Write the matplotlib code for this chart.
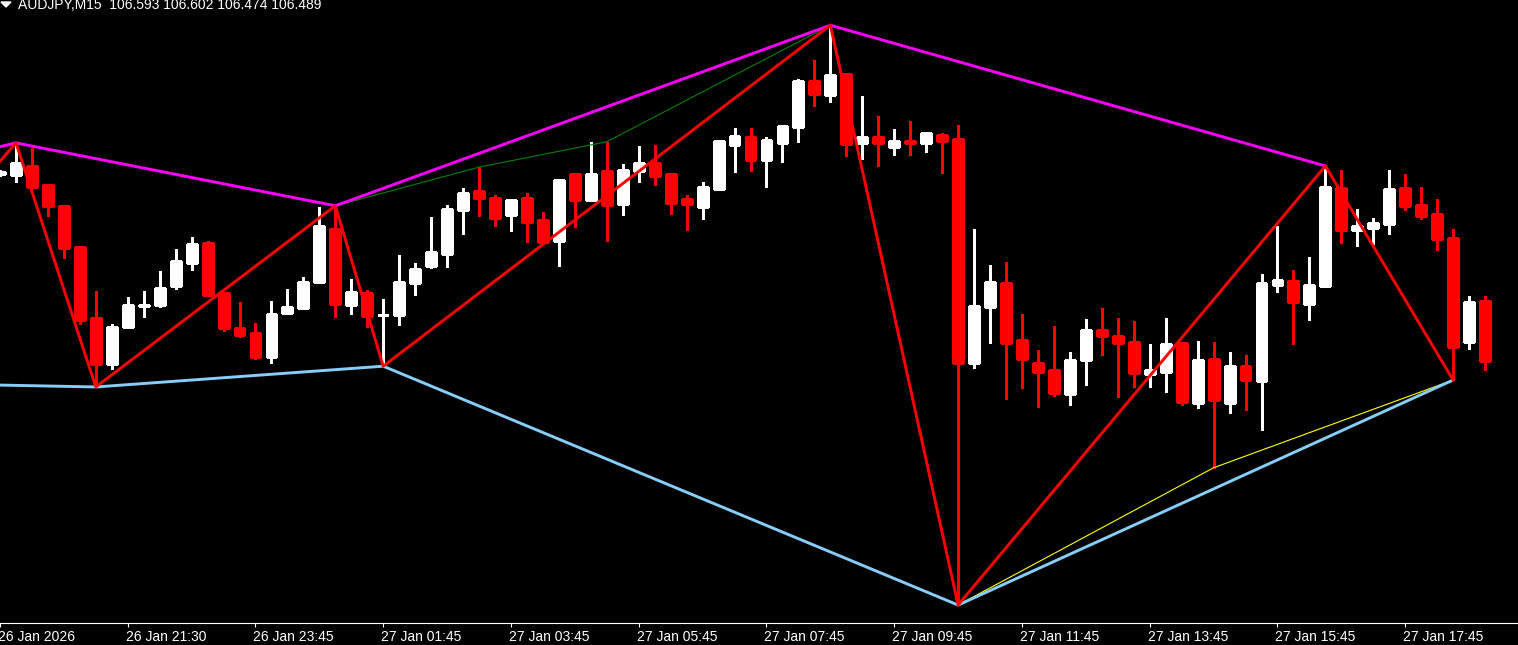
import matplotlib
matplotlib.use('Agg')
import matplotlib.pyplot as plt
from matplotlib.patches import Polygon
from matplotlib.transforms import ScaledTranslation
import numpy as np

symbol = "AUDJPY,M15"
first_bar = -1  # first bar sits just left of the visible area

opens = [106.813, 106.811, 106.827, 106.794, 106.758, 106.687, 106.564, 106.484, 106.548, 106.585,
         106.586, 106.619, 106.659, 106.694, 106.607, 106.546, 106.538, 106.496, 106.572, 106.581,
         106.626, 106.718, 106.586, 106.607, 106.568, 106.569, 106.624, 106.654, 106.674, 106.751,
         106.784, 106.772, 106.742, 106.772, 106.733, 106.697, 106.813, 106.768, 106.818, 106.761,
         106.818, 106.832, 106.813, 106.770, 106.756, 106.787, 106.863, 106.877, 106.837, 106.867,
         106.895, 106.974, 106.950, 106.986, 106.867, 106.877, 106.860, 106.870, 106.867, 106.881,
         106.874, 106.486, 106.583, 106.624, 106.525, 106.486, 106.473, 106.432, 106.491, 106.543,
         106.532, 106.522, 106.466, 106.470, 106.520, 106.416, 106.492, 106.416, 106.480, 106.454,
         106.621, 106.628, 106.588, 106.619, 106.789, 106.716, 106.720, 106.726, 106.789, 106.759,
         106.744, 106.702, 106.522, 106.593]
highs = [106.820, 106.867, 106.858, 106.794, 106.758, 106.688, 106.610, 106.553, 106.600, 106.610,
         106.645, 106.683, 106.704, 106.697, 106.607, 106.591, 106.555, 106.593, 106.614, 106.635,
         106.756, 106.758, 106.631, 106.612, 106.596, 106.673, 106.659, 106.739, 106.759, 106.789,
         106.825, 106.777, 106.770, 106.780, 106.747, 106.803, 106.813, 106.869, 106.869, 106.830,
         106.862, 106.863, 106.813, 106.777, 106.799, 106.870, 106.893, 106.893, 106.877, 106.898,
         106.978, 107.011, 107.071, 106.986, 106.948, 106.914, 106.891, 106.905, 106.886, 106.884,
         106.898, 106.718, 106.655, 106.661, 106.570, 106.508, 106.550, 106.505, 106.562, 106.581,
         106.564, 106.558, 106.518, 106.564, 106.520, 106.524, 106.522, 106.505, 106.499, 106.640,
         106.723, 106.647, 106.669, 106.827, 106.820, 106.752, 106.737, 106.820, 106.813, 106.791,
         106.770, 106.718, 106.602, 106.602]
lows = [106.810, 106.799, 106.791, 106.740, 106.668, 106.553, 106.444, 106.475, 106.546, 106.565,
        106.583, 106.614, 106.647, 106.602, 106.541, 106.531, 106.492, 106.486, 106.570, 106.581,
        106.626, 106.565, 106.570, 106.548, 106.480, 106.551, 106.603, 106.650, 106.652, 106.709,
        106.740, 106.723, 106.714, 106.695, 106.695, 106.654, 106.721, 106.768, 106.697, 106.742,
        106.799, 106.794, 106.744, 106.716, 106.735, 106.787, 106.817, 106.818, 106.791, 106.834,
        106.869, 106.931, 106.938, 106.844, 106.839, 106.827, 106.846, 106.846, 106.851, 106.815,
        106.066, 106.477, 106.520, 106.423, 106.442, 106.409, 106.428, 106.413, 106.447, 106.499,
        106.427, 106.444, 106.444, 106.435, 106.413, 106.408, 106.304, 106.399, 106.404, 106.369,
        106.609, 106.518, 106.560, 106.617, 106.694, 106.688, 106.692, 106.709, 106.751, 106.735,
        106.681, 106.456, 106.510, 106.474]
closes = [106.817, 106.832, 106.791, 106.758, 106.685, 106.560, 106.484, 106.548, 106.586, 106.586,
          106.616, 106.662, 106.692, 106.603, 106.546, 106.534, 106.496, 106.570, 106.583, 106.626,
          106.723, 106.588, 106.609, 106.567, 106.569, 106.626, 106.648, 106.678, 106.752, 106.780,
          106.772, 106.737, 106.768, 106.730, 106.695, 106.803, 106.768, 106.813, 106.759, 106.820,
          106.832, 106.810, 106.763, 106.761, 106.791, 106.870, 106.879, 106.837, 106.872, 106.896,
          106.974, 106.952, 106.985, 106.865, 106.877, 106.867, 106.870, 106.867, 106.884, 106.870,
          106.486, 106.584, 106.626, 106.520, 106.492, 106.470, 106.434, 106.491, 106.543, 106.532,
          106.520, 106.468, 106.473, 106.518, 106.418, 106.491, 106.421, 106.480, 106.456, 106.624,
          106.629, 106.591, 106.621, 106.791, 106.716, 106.723, 106.728, 106.787, 106.758, 106.740,
          106.700, 106.513, 106.591, 106.489]

tick_bars = [-1, 7, 15, 23, 31, 39, 47, 55, 63, 71, 79, 87]
tick_labels = ["26 Jan 2026", "26 Jan 21:30", "26 Jan 23:45", "27 Jan 01:45",
               "27 Jan 03:45", "27 Jan 05:45", "27 Jan 07:45", "27 Jan 09:45",
               "27 Jan 11:45", "27 Jan 13:45", "27 Jan 15:45", "27 Jan 17:45"]

# zigzag swings and the helper lines
zz_bars = [-2, 0, 5, 20, 23, 51, 59, 82, 90]
zz_prices = [106.803, 106.867, 106.444, 106.758, 106.480, 107.071, 106.066, 106.827, 106.456]
hi_bars = [-4, 0, 20, 51, 82]
hi_prices = [106.841, 106.867, 106.758, 107.071, 106.827]
lo_bars = [-6, 5, 23, 59, 90]
lo_prices = [106.450, 106.444, 106.480, 106.066, 106.456]
green_bars = [20, 29, 37, 51]
green_prices = [106.758, 106.825, 106.869, 107.071]
yellow_bars = [59, 75, 90]
yellow_prices = [106.066, 106.304, 106.456]

W, H = 1518, 645
fig = plt.figure(figsize=(W / 100, H / 100), dpi=100, facecolor='black')
ax = fig.add_axes([0, 22 / H, 1, 623 / H], facecolor='black')

o = np.array(opens); h = np.array(highs); l = np.array(lows); c = np.array(closes)
bars = np.arange(len(o)) + first_bar
cols = np.where(c > o, 'white', 'red')

ax.vlines(bars, l, h, colors=cols, linewidth=0.8, antialiased=False, zorder=2)
ax.bar(bars, np.abs(c - o), bottom=np.minimum(o, c), width=0.62, color=cols,
       edgecolor=cols, linewidth=0.8, antialiased=False, zorder=3)

ax.plot(green_bars, green_prices, color='#008000', lw=0.8, zorder=4)
ax.plot(yellow_bars, yellow_prices, color='#FFFF00', lw=0.8, zorder=4)
ax.plot(lo_bars, lo_prices, color='#87CEFA', lw=2.1, zorder=5)
ax.plot(hi_bars, hi_prices, color='#FF00FF', lw=2.1, zorder=5)
ax.plot(zz_bars, zz_prices, color='#FF0000', lw=2.1, zorder=6)

ax.set_xlim(-0.8125, 94.0625)
ax.set_ylim(106.0349, 107.1147)

for s in ['top', 'left', 'right']:
    ax.spines[s].set_visible(False)
ax.spines['bottom'].set_color('white')
ax.spines['bottom'].set_linewidth(0.8)
ax.set_yticks([])
ax.set_xticks(tick_bars)
ax.set_xticklabels(tick_labels, ha='left', fontsize=10, family='Liberation Sans')
ax.tick_params(axis='x', colors='white', length=3, width=0.8, pad=1.8, direction='out')
shift = ScaledTranslation(-2 / 100, 0, fig.dpi_scale_trans)
for lab in ax.get_xticklabels():
    lab.set_transform(lab.get_transform() + shift)

title = "%s  %.3f %.3f %.3f %.3f" % (symbol, o[-1], h[-1], l[-1], c[-1])
fig.text(18 / W, 1 + 2 / H, title, ha='left', va='top', color='white',
         fontsize=10, family='Liberation Sans')
fig.add_artist(Polygon([(1 / W, 1 - 2 / H), (11 / W, 1 - 2 / H), (6 / W, 1 - 7 / H)],
                       closed=True, transform=fig.transFigure, color='white'))

fig.savefig('out.png', dpi=100, facecolor='black')
